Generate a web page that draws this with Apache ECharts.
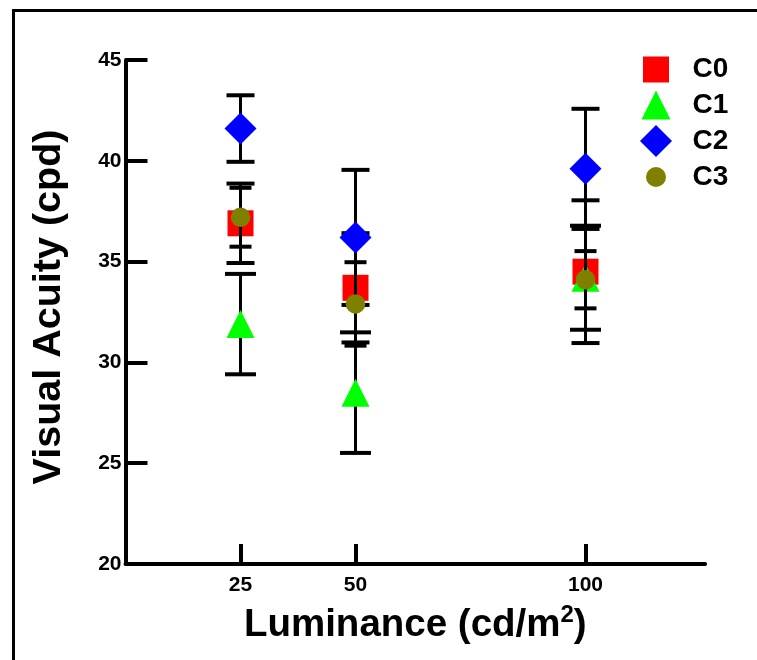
<!DOCTYPE html>
<html>
<head>
<meta charset="utf-8">
<script src="https://cdn.jsdelivr.net/npm/echarts@6/dist/echarts.min.js"></script>
<style>html,body{margin:0;padding:0;background:#fff}#c{width:757px;height:660px}</style>
</head>
<body>
<div id="c"></div>
<script>
const luminance = [25, 50, 100];
const seriesNames = ['C0', 'C1', 'C2', 'C3'];
const c0Mean = [36.9, 33.7, 34.5];
const c0Err  = [1.97, 2.71, 3.54];
const c1Mean = [31.9, 28.5, 34.2];
const c1Err  = [2.49, 2.99, 2.58];
const c2Mean = [41.6, 36.2, 39.6];
const c2Err  = [1.65, 3.35, 2.98];
const c3Mean = [37.2, 32.9, 34.1];
const c3Err  = [1.46, 2.07, 1.42];
const xTicks = [25, 50, 100];

const FONT = '"Liberation Sans", Arial, sans-serif';
const means = [c0Mean, c1Mean, c2Mean, c3Mean];
const errs = [c0Err, c1Err, c2Err, c3Err];
const colors = ['#FF0000', '#00FF00', '#0000FF', '#808000'];
const symbols = ['rect', 'triangle', 'diamond', 'circle'];
const sizes = [26, 28, 32, 19.5];
const capWidths = [28, 31, 28, 22];
const legendIcons = [
  'path://M0,0L1,0L1,1L0,1Z',
  'path://M0.5,0L1,1L0,1Z',
  'path://M0.5,0L1,0.5L0.5,1L0,0.5Z',
  'path://M0,0.5A0.5,0.5,0,1,1,1,0.5A0.5,0.5,0,1,1,0,0.5Z'
];
const legendSizes = [26, 29, 32, 20];
const legendCY = [69.5, 105, 141, 177];

function errRender(capW) {
  return function (params, api) {
    const x = api.value(0), lo = api.value(1), hi = api.value(2);
    const a = api.coord([x, hi]), b = api.coord([x, lo]);
    const st = { stroke: '#000', lineWidth: 3 };
    const cs = { stroke: '#000', lineWidth: 4 };
    return {
      type: 'group',
      children: [
        { type: 'line', shape: { x1: a[0], y1: a[1], x2: b[0], y2: b[1] }, style: st },
        { type: 'line', shape: { x1: a[0] - capW / 2, y1: a[1], x2: a[0] + capW / 2, y2: a[1] }, style: cs },
        { type: 'line', shape: { x1: b[0] - capW / 2, y1: b[1], x2: b[0] + capW / 2, y2: b[1] }, style: cs }
      ]
    };
  };
}

const series = [];
seriesNames.forEach((name, i) => {
  series.push({
    type: 'custom',
    name: name + '_err',
    z: 2 + i * 2,
    renderItem: errRender(capWidths[i]),
    data: luminance.map((x, j) => [x, means[i][j] - errs[i][j], means[i][j] + errs[i][j]]),
    silent: true
  });
  series.push({
    type: 'scatter',
    name: name,
    z: 3 + i * 2,
    symbol: symbols[i],
    symbolSize: sizes[i],
    itemStyle: { color: colors[i], opacity: 1 },
    data: luminance.map((x, j) => [x, means[i][j]])
  });
});

const legends = seriesNames.map((name, i) => ({
  data: [{ name: name, icon: legendIcons[i] }],
  left: 656 - legendSizes[i] / 2,
  top: legendCY[i] - 17,
  padding: 0,
  itemWidth: 63,
  itemHeight: legendSizes[i],
  selectedMode: false,
  textStyle: { fontSize: 28, fontWeight: 'bold', color: '#000', fontFamily: FONT, lineHeight: 34 }
}));

const chart = echarts.init(document.getElementById('c'), null, { renderer: 'canvas' });
chart.setOption({
  animation: false,
  backgroundColor: '#fff',
  graphic: [{
    type: 'rect',
    shape: { x: 13.5, y: 10.5, width: 900, height: 800 },
    style: { fill: 'none', stroke: '#000', lineWidth: 3 },
    z: 100
  }],
  legend: legends,
  grid: { left: 125.5, top: 60, right: 757 - 125.5 - 126 * 4.6, bottom: 96, containLabel: false },
  xAxis: {
    type: 'value',
    min: 0,
    max: 126,
    splitLine: { show: false },
    axisLine: { lineStyle: { color: '#000', width: 4 } },
    axisTick: { show: true, inside: true, length: 20, customValues: xTicks, lineStyle: { color: '#000', width: 4 } },
    axisLabel: { customValues: xTicks, margin: 11, fontSize: 21, fontWeight: 'bold', color: '#000', fontFamily: FONT },
    name: '{a|Luminance (cd/m}{s|2}{a|)}',
    nameLocation: 'middle',
    nameGap: 39,
    nameTextStyle: {
      rich: {
        a: { fontSize: 38.5, fontWeight: 'bold', color: '#000', fontFamily: FONT, lineHeight: 44 },
        s: { fontSize: 24, fontWeight: 'bold', color: '#000', fontFamily: FONT, lineHeight: 44, verticalAlign: 'top', padding: [0, 0, 14, 0] }
      }
    }
  },
  yAxis: {
    type: 'value',
    min: 20,
    max: 45,
    interval: 5,
    splitLine: { show: false },
    axisLine: { lineStyle: { color: '#000', width: 4 } },
    axisTick: { show: true, inside: true, length: 22, lineStyle: { color: '#000', width: 4 } },
    axisLabel: { margin: 4, fontSize: 21, fontWeight: 'bold', color: '#000', fontFamily: FONT },
    name: 'Visual Acuity (cpd)',
    nameLocation: 'middle',
    nameGap: 56,
    nameTextStyle: { fontSize: 39.5, fontWeight: 'bold', color: '#000', fontFamily: FONT, padding: [0, 0, 0, 10] }
  },
  series: series
});
</script>
</body>
</html>
